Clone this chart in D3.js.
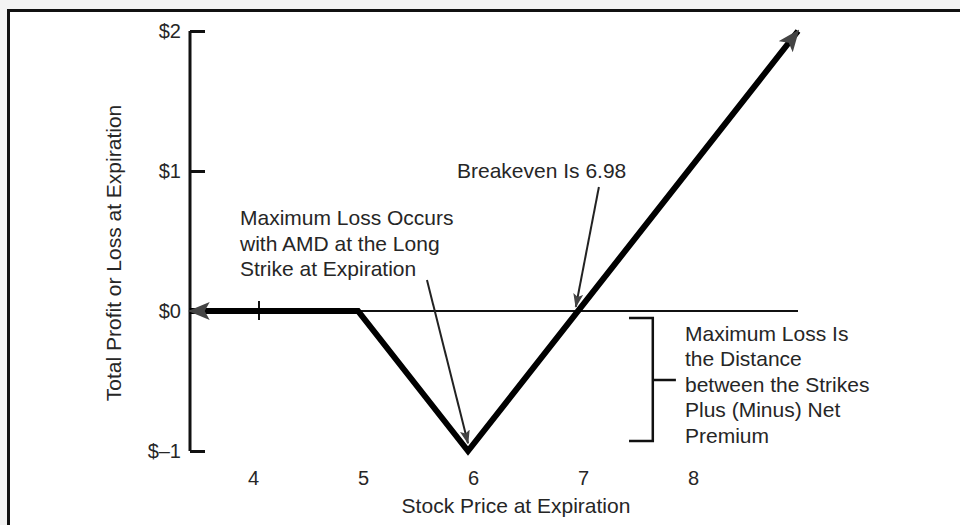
<!DOCTYPE html>
<html>
<head>
<meta charset="utf-8">
<script src="https://cdn.jsdelivr.net/npm/d3@7"></script>
<style>
  html, body { margin: 0; padding: 0; background: #fff; }
  svg { display: block; }
  text { font-family: "Liberation Sans", Arial, Helvetica, sans-serif; fill: #262626; }
</style>
</head>
<body>
<svg id="chart" width="960" height="525"></svg>
<script>
// ---------- data ----------
const stockPrice = [3.47, 5, 6, 9];          // x values of payoff line
const profitLoss = [0, 0, -1, 2];            // y values of payoff line
const xTickValues = [4, 5, 6, 7, 8];
const xTickLabels = ["4", "5", "6", "7", "8"];
const yTickValues = [2, 1, 0, -1];
const yTickLabels = ["$2", "$1", "$0", "$\u20131"];
const zeroMarkX = [4.1];
const breakeven = 6.98;
const breakevenText = ["Breakeven Is 6.98"];
const maxLossPointText = ["Maximum Loss Occurs", "with AMD at the Long", "Strike at Expiration"];
const maxLossRangeText = ["Maximum Loss Is", "the Distance", "between the Strikes", "Plus (Minus) Net", "Premium"];
const xTitle = "Stock Price at Expiration";
const yTitle = "Total Profit or Loss at Expiration";
// annotation anchors in data units
const breakevenArrow = {x1: 7.19, y1: 0.886, x2: breakeven, y2: 0.03};
const breakevenLabel = {x: 5.9, y: 0.95};
const maxLossArrow = {x1: 5.627, y1: 0.221, x2: 6.0, y2: -0.945};
const maxLossLabel = {x: 3.927, y: 0.614};
const bracket = {xArm: 7.464, x: 7.68, xMid: 7.89, yTop: -0.05, yBot: -0.929, yMid: -0.493};
const rangeLabel = {x: 7.973, y: -0.214};

// ---------- setup ----------
const svg = d3.select("#chart");
const x = d3.scaleLinear().domain([5, 6]).range([358, 468]);
const y = d3.scaleLinear().domain([-1, 2]).range([451, 31]);

// faint page edge shading
svg.append("rect").attr("x", 0).attr("y", 0).attr("width", 960).attr("height", 9).attr("fill", "#f3f3f3");
svg.append("rect").attr("x", 0).attr("y", 0).attr("width", 7).attr("height", 525).attr("fill", "#f3f3f3");
svg.append("rect").attr("x", 7).attr("y", 9).attr("width", 953).attr("height", 516).attr("fill", "#fff");
// frame
svg.append("path").attr("d", "M8.5,530 V10.5 H970").attr("fill", "none").attr("stroke", "#111").attr("stroke-width", 3);

const defs = svg.append("defs");
defs.append("marker").attr("id", "bigArrow")
  .attr("markerUnits", "userSpaceOnUse").attr("viewBox", "0 0 22 18")
  .attr("refX", 20).attr("refY", 9).attr("markerWidth", 22).attr("markerHeight", 18)
  .attr("orient", "auto")
  .append("path").attr("d", "M0,0 L22,9 L0,18 L5,9 Z").attr("fill", "#444");
defs.append("marker").attr("id", "bigArrowStart")
  .attr("markerUnits", "userSpaceOnUse").attr("viewBox", "0 0 22 18")
  .attr("refX", 20).attr("refY", 9).attr("markerWidth", 22).attr("markerHeight", 18)
  .attr("orient", "auto-start-reverse")
  .append("path").attr("d", "M0,0 L22,9 L0,18 L5,9 Z").attr("fill", "#444");
defs.append("marker").attr("id", "smallArrow")
  .attr("markerUnits", "userSpaceOnUse").attr("viewBox", "0 0 14 10")
  .attr("refX", 13).attr("refY", 5).attr("markerWidth", 14).attr("markerHeight", 10)
  .attr("orient", "auto")
  .append("path").attr("d", "M0,0 L14,5 L0,10 L3,5 Z").attr("fill", "#444");

// y axis
const yAxis = d3.axisRight(y).tickValues(yTickValues).tickSize(15)
  .tickFormat((d, i) => "");
const gy = svg.append("g").attr("transform", `translate(${190},0)`).call(yAxis);
gy.select(".domain").attr("d", `M0,${y(2)} V${y(-1)}`).attr("stroke", "#111").attr("stroke-width", 3).attr("fill", "none");
gy.selectAll(".tick line").attr("stroke", "#111").attr("stroke-width", 3);
svg.append("g").selectAll("text").data(yTickValues).join("text")
  .attr("x", 181).attr("y", d => y(d)).attr("dy", 7)
  .attr("text-anchor", "end").attr("font-size", 20)
  .text((d, i) => yTickLabels[i]);

// x tick labels (axis line hidden, labels only)
const xAxis = d3.axisBottom(x).tickValues(xTickValues).tickSize(0)
  .tickFormat((d, i) => xTickLabels[i]);
const gx = svg.append("g").attr("transform", `translate(5,${y(-1) + 10})`).call(xAxis);
gx.select(".domain").remove();
gx.selectAll(".tick text").attr("font-size", 20).attr("fill", "#262626")
  .attr("font-family", "'Liberation Sans', Arial, sans-serif").attr("dy", "1.05em");

// zero line
svg.append("line").attr("x1", 190).attr("x2", x(9)).attr("y1", y(0)).attr("y2", y(0))
  .attr("stroke", "#111").attr("stroke-width", 2);
// small tick on zero line
svg.selectAll(".zmark").data(zeroMarkX).join("line").attr("class", "zmark")
  .attr("x1", d => x(d)).attr("x2", d => x(d)).attr("y1", y(0) - 10).attr("y2", y(0) + 9)
  .attr("stroke", "#111").attr("stroke-width", 2);

// payoff line
const pts = stockPrice.map((v, i) => [v, profitLoss[i]]);
svg.append("path").datum(pts)
  .attr("d", d3.line().x(d => x(d[0])).y(d => y(d[1])))
  .attr("fill", "none").attr("stroke", "#000").attr("stroke-width", 6)
  .attr("stroke-linejoin", "miter")
  .attr("marker-end", "url(#bigArrow)").attr("marker-start", "url(#bigArrowStart)");

// annotation arrows
[breakevenArrow, maxLossArrow].forEach(a => {
  svg.append("line").attr("x1", x(a.x1)).attr("y1", y(a.y1)).attr("x2", x(a.x2)).attr("y2", y(a.y2))
    .attr("stroke", "#222").attr("stroke-width", 2).attr("marker-end", "url(#smallArrow)");
});

// bracket
svg.append("path")
  .attr("d", `M${x(bracket.xArm)},${y(bracket.yTop)} H${x(bracket.x)} V${y(bracket.yBot)} H${x(bracket.xArm)} M${x(bracket.x)},${y(bracket.yMid)} H${x(bracket.xMid)}`)
  .attr("fill", "none").attr("stroke", "#111").attr("stroke-width", 2.5);

// annotation texts
function multiline(lines, pos) {
  const t = svg.append("text").attr("font-size", 21);
  lines.forEach((s, i) => t.append("tspan").attr("x", x(pos.x)).attr("y", y(pos.y) + i * 25.5).text(s));
}
multiline(breakevenText, breakevenLabel);
multiline(maxLossPointText, maxLossLabel);
multiline(maxLossRangeText, rangeLabel);

// axis titles
svg.append("text").attr("x", 516).attr("y", 513).attr("text-anchor", "middle").attr("font-size", 21).text(xTitle);
svg.append("text").attr("transform", "translate(121,253) rotate(-90)").attr("text-anchor", "middle").attr("font-size", 21).text(yTitle);
</script>
</body>
</html>
